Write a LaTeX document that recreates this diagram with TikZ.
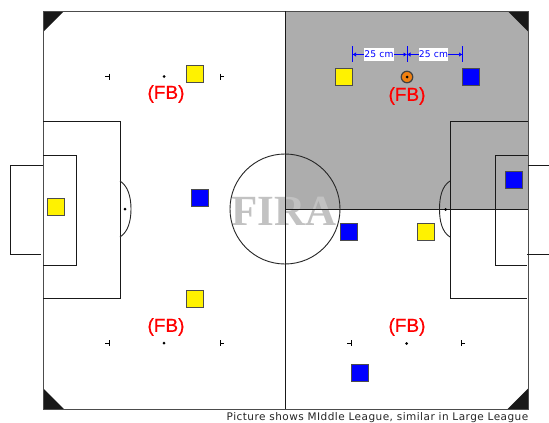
\documentclass[tikz,border=0pt]{standalone}
\usepackage{fontspec}
\setmainfont{Liberation Sans}
\newfontfamily\wmfont{Liberation Serif}
\newfontfamily\capfont[LetterSpace=4.4]{DejaVu Sans}
\newfontfamily\dimfont[LetterSpace=2]{DejaVu Sans}
\newfontfamily\fbfont[FakeBold=0.5]{Liberation Sans}
\usetikzlibrary{arrows.meta}
\definecolor{fieldgrey}{HTML}{ADADAD}
\definecolor{ballorange}{HTML}{F08010}
\tikzset{
 x=1pt,y=-1pt,
 fieldline/.style={draw=black!90,line width=1pt},
 arcline/.style={draw=black!85,line width=0.9pt},
 robot/.style={draw=black!70,line width=1pt,minimum size=17pt,inner sep=0pt,outer sep=0pt},
 yrobot/.style={robot,fill=yellow},
 brobot/.style={robot,fill=blue},
 fblabel/.style={text=red,font=\fbfont\fontsize{19}{19}\selectfont,inner sep=0pt},
 spot/.style={circle,fill=black,minimum size=3pt,inner sep=0pt},
 tick/.style={draw=black,line width=0.8pt},
 corner/.style={fill=black!90,draw=none},
 dimline/.style={draw=blue,line width=1pt},
 dimarrow/.style={draw=blue,line width=1pt,{Latex[length=3.5pt,width=4.5pt]}-{Latex[length=3.5pt,width=4.5pt]}},
 dimlabel/.style={fill=white,text=blue,font=\dimfont\fontsize{9.2}{9}\selectfont,inner sep=0pt,minimum width=27.5pt,minimum height=13pt},
}
\begin{document}
\begin{tikzpicture}
\useasboundingbox (0,0) rectangle (549,423);
\fill[white] (0,0) rectangle (549,423);
% shaded quarter
\fill[fieldgrey] (285,11) rectangle (528,209);
% watermark
\node[text=black!24,font=\wmfont\bfseries\fontsize{43}{43}\selectfont,inner sep=0pt] (wm) at (284,211) {FIRA};
% corners
\fill[corner] (43,11) -- (64,11) -- (43,32) -- cycle;
\fill[corner] (528.5,11) -- (507.5,11) -- (528.5,32) -- cycle;
\fill[corner] (43,409) -- (64,409) -- (43,388) -- cycle;
\fill[corner] (528.5,409) -- (507.5,409) -- (528.5,388) -- cycle;
% field
\draw[draw=black!70,line width=1pt] (43.5,11.5) rectangle (528.5,409.5);
\draw[fieldline] (285.5,11) -- (285.5,409);
\draw[fieldline] (285,209.5) -- (528,209.5);
\draw[arcline] (285,209) circle [radius=55];
% left side
\draw[fieldline] (43,121.5) -- (120.5,121.5) -- (120.5,298.5) -- (43,298.5);
\draw[fieldline] (43,155.5) -- (76.5,155.5) -- (76.5,265.5) -- (43,265.5);
\draw[fieldline] (43,165.5) -- (10.5,165.5) -- (10.5,254.5) -- (41,254.5);
\draw[arcline] (120,181) .. controls (128,186) and (131,197) .. (131,209) .. controls (131,221) and (128,232) .. (120,237);
% right side
\draw[fieldline] (528,121.5) -- (450.5,121.5) -- (450.5,298.5) -- (527,298.5);
\draw[fieldline] (528,155.5) -- (495.5,155.5) -- (495.5,265.5) -- (527,265.5);
\draw[fieldline] (528,165.5) -- (549,165.5);
\draw[fieldline] (527,254.5) -- (549,254.5);
\draw[arcline] (450,181) .. controls (442,186) and (439.5,197) .. (439.5,209) .. controls (439.5,221) and (442,232) .. (450,237);
% spots
\node[spot] (s1) at (125,209) {};
\node[spot] (s2) at (445.5,209.5) {};
\node[spot] (s3) at (164,76.5) {};
\node[spot] (s4) at (164,343) {};
\node[spot] (s5) at (406.5,343.5) {};
% ticks
\draw[tick] (105,76.5) -- (109,76.5) (109,73.5) -- (109,79.5);
\draw[tick] (224,76.5) -- (220,76.5) (220,73.5) -- (220,79.5);
\draw[tick] (105,343) -- (109,343) (109,340) -- (109,346);
\draw[tick] (224,343) -- (220,343) (220,340) -- (220,346);
\draw[tick] (347,343) -- (351,343) (351,340) -- (351,346);
\draw[tick] (465,343) -- (461,343) (461,340) -- (461,346);
% robots
\node[yrobot] (y1) at (195,74) {};
\node[yrobot] (y2) at (56,207) {};
\node[yrobot] (y3) at (195,299) {};
\node[yrobot] (y4) at (344,77) {};
\node[yrobot] (y5) at (426,232) {};
\node[brobot] (b1) at (200,198) {};
\node[brobot] (b2) at (471,77) {};
\node[brobot] (b3) at (514,180) {};
\node[brobot] (b4) at (349,232) {};
\node[brobot] (b5) at (360,373) {};
% ball
\node[circle,draw=black!75,fill=ballorange,line width=1.2pt,minimum size=11.5pt,inner sep=0pt] (ball) at (407,77) {};
\node[circle,fill=black,minimum size=3pt,inner sep=0pt] (ballc) at (407,77) {};
% FB labels
\node[fblabel] (f1) at (166,94) {(FB)};
\node[fblabel] (f2) at (166,327) {(FB)};
\node[fblabel] (f3) at (407,96) {(FB)};
\node[fblabel] (f4) at (407,327) {(FB)};
% dimensions
\coordinate (d1t) at (352.5,46); \coordinate (d1b) at (352.5,62);
\coordinate (d2t) at (407,46); \coordinate (d2b) at (407,62);
\coordinate (d3t) at (462.5,46); \coordinate (d3b) at (462.5,62);
\coordinate (a1) at (352.5,54.5); \coordinate (a2) at (407,54.5); \coordinate (a3) at (462.5,54.5);
\draw[dimline] (d1t) -- (d1b);
\draw[dimline] (d2t) -- (d2b);
\draw[dimline] (d3t) -- (d3b);
\draw[dimarrow] (a1) -- (a2);
\draw[dimarrow] (a2) -- (a3);
\node[dimlabel] (l1) at (379,54) {25 cm};
\node[dimlabel] (l2) at (433.5,54) {25 cm};
% caption
\node[anchor=east,font=\capfont\fontsize{10.5}{11}\selectfont,text=black!85,inner sep=0pt] (cap) at (528.5,417.5) {Picture shows MIddle League, similar in Large League};
\end{tikzpicture}
\end{document}
